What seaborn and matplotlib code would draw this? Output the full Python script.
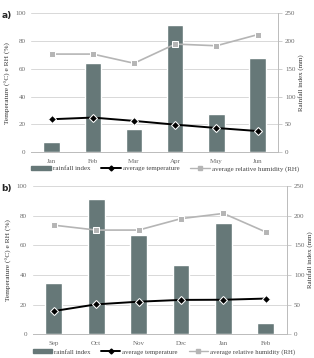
import matplotlib
matplotlib.use("Agg")
import matplotlib.pyplot as plt
import seaborn as sns
import pandas as pd
from matplotlib.lines import Line2D
from matplotlib.patches import Patch

months_a = ["Jan", "Feb", "Mar", "Apr", "May", "Jun"]
rain_a = [18, 160, 42, 229, 68, 169]
temp_a = [23.7, 24.9, 22.5, 19.8, 17.4, 15.2]
rh_a = [70.6, 70.6, 64.0, 77.8, 76.6, 84.6]

months_b = ["Sep", "Oct", "Nov", "Dec", "Jan", "Feb"]
rain_b = [87, 227, 168, 117, 188, 19]
temp_b = [15.7, 20.2, 22.0, 23.2, 23.3, 24.1]
rh_b = [73.5, 70.2, 70.2, 77.9, 81.4, 68.9]

BAR = "#667878"
RH = "#b5b5b5"
TXT = "#6a6a6a"
FONT = "Liberation Serif"

sns.set_style("white")
plt.rcParams["font.family"] = [FONT, "DejaVu Serif"]


def panel(fig, rect, months, rain, temp, rh, tag, legsize):
    ax = fig.add_axes(rect)
    ax2 = ax.twinx()
    df = pd.DataFrame({"month": months, "rain": rain, "temp": temp, "rh": rh})

    sns.barplot(data=df, x="month", y="rain", color=BAR, width=0.4,
                saturation=1, ax=ax2)
    sns.lineplot(data=df, x="month", y="temp", color="black", marker="D",
                 markersize=4, lw=1.4, sort=False, ax=ax)
    sns.lineplot(data=df, x="month", y="rh", color=RH, marker="s",
                 markersize=5, lw=1.2, sort=False, ax=ax)

    ax.set_zorder(ax2.get_zorder() + 1)
    ax.patch.set_visible(False)

    ax.set_ylim(0, 100)
    ax2.set_ylim(0, 250)
    ax.set_yticks(range(0, 101, 20))
    ax2.set_yticks(range(0, 251, 50))
    ax.set_xlim(-0.5, 5.5)
    ax.grid(False)
    ax2.grid(False)
    # grid on the bar axes so it sits under the bars
    for y in range(50, 251, 50):
        ax2.axhline(y, color="#d8d8d8", lw=0.7, zorder=0)

    for a in (ax, ax2):
        a.tick_params(labelsize=5, colors=TXT, width=0.5)
        for s in a.spines.values():
            s.set_visible(False)
    for side in ("right", "bottom"):
        ax2.spines[side].set_visible(True)
        ax2.spines[side].set_color("#bbbbbb")
        ax2.spines[side].set_linewidth(0.7)
    ax.tick_params(axis="y", length=0, pad=4)
    ax.tick_params(axis="x", length=0, pad=5)
    ax2.tick_params(axis="y", length=3, color="#bbbbbb", pad=2)

    ax.set_xlabel("")
    ax2.set_xlabel("")
    ax.set_ylabel("Temperature (°C) e RH (%)", fontsize=5.3, color="#333333",
                  labelpad=3)
    ax2.set_ylabel("Rainfall index (mm)", fontsize=5, color="#333333",
                   labelpad=2)

    handles = [
        Patch(color=BAR),
        Line2D([], [], color="black", marker="D", markersize=2.5, lw=1.4),
        Line2D([], [], color=RH, marker="s", markersize=3, lw=1.0),
    ]
    labels = ["rainfall index", "average temperature",
              "average relative humidity (RH)"]
    ax.legend(handles, labels, loc="upper left", bbox_to_anchor=(0.0, -0.1),
              ncol=3, frameon=False, fontsize=legsize, handlelength=2.8,
              handleheight=0.5, handletextpad=0.3, columnspacing=1.6,
              labelcolor="#444444", borderaxespad=0, borderpad=0)
    fig.text(0.005, rect[1] + rect[3] + 0.005, tag, fontsize=6.5,
             fontweight="bold", va="top", family="DejaVu Sans")
    return ax


fig = plt.figure(figsize=(3.14, 3.58), dpi=100)
panel(fig, [0.099, 0.575, 0.787, 0.388], months_a, rain_a, temp_a, rh_a,
      "a)", 5.0)
panel(fig, [0.104, 0.066, 0.81, 0.415], months_b, rain_b, temp_b, rh_b,
      "b)", 4.9)
fig.savefig("out.png", dpi=100)
